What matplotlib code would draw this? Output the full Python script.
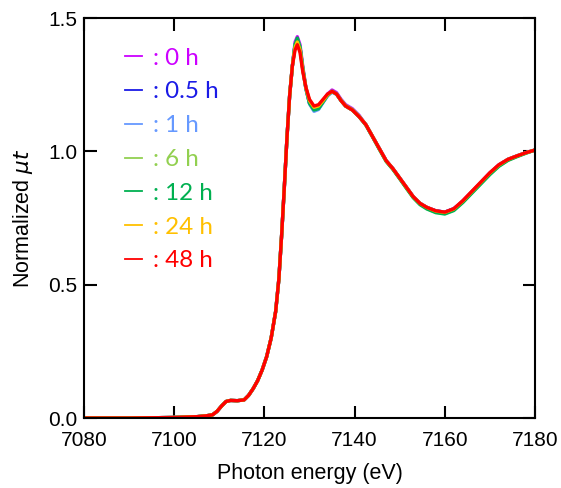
import numpy as np
import matplotlib as mpl
mpl.use('Agg')
from matplotlib import pyplot as plt
from matplotlib.lines import Line2D

# photon energy grid (eV)
energy = [7080, 7090, 7100, 7105, 7107, 7108.5, 7109.5, 7110.5, 7111.5, 7112.5,
          7114, 7115.5, 7116.5, 7117.5, 7118.5, 7119.5, 7120.5, 7121.5, 7122.5, 7123.2,
          7123.8, 7124.4, 7125.0, 7125.6, 7126.2, 7126.8, 7127.3, 7127.9, 7128.5, 7129.2,
          7130.0, 7131.0, 7132.0, 7133.0, 7134.0, 7135.0, 7136.0, 7137.0, 7138.0, 7139.5,
          7141.0, 7142.5, 7144.0, 7145.5, 7147.0, 7148.5, 7150.0, 7151.5, 7153.0, 7154.5,
          7156.0, 7158.0, 7160.0, 7162.0, 7164.0, 7166.0, 7168.0, 7170.0, 7172.0, 7174.0,
          7176.0, 7178.0, 7180.0]

mu_0h = [0.000, 0.000, 0.002, 0.005, 0.008, 0.012, 0.025, 0.045, 0.062, 0.066,
         0.065, 0.068, 0.085, 0.110, 0.140, 0.180, 0.230, 0.300, 0.400, 0.520,
         0.680, 0.860, 1.050, 1.210, 1.320, 1.410, 1.430, 1.400, 1.320, 1.240,
         1.185, 1.160, 1.165, 1.190, 1.215, 1.230, 1.220, 1.195, 1.175, 1.160,
         1.135, 1.100, 1.055, 1.010, 0.965, 0.935, 0.900, 0.865, 0.830, 0.805,
         0.790, 0.777, 0.772, 0.785, 0.815, 0.850, 0.885, 0.920, 0.950, 0.970,
         0.983, 0.995, 1.005]
mu_05h = [0.000, 0.000, 0.002, 0.005, 0.008, 0.012, 0.025, 0.045, 0.062, 0.066,
          0.065, 0.068, 0.085, 0.110, 0.140, 0.180, 0.230, 0.300, 0.400, 0.520,
          0.680, 0.860, 1.050, 1.210, 1.320, 1.400, 1.420, 1.390, 1.310, 1.235,
          1.180, 1.155, 1.160, 1.185, 1.210, 1.225, 1.215, 1.190, 1.170, 1.155,
          1.130, 1.100, 1.055, 1.010, 0.965, 0.935, 0.900, 0.865, 0.830, 0.805,
          0.790, 0.777, 0.772, 0.785, 0.812, 0.847, 0.882, 0.918, 0.948, 0.970,
          0.983, 0.995, 1.005]
mu_1h = [0.000, 0.000, 0.002, 0.005, 0.008, 0.012, 0.025, 0.045, 0.062, 0.066,
         0.065, 0.068, 0.085, 0.110, 0.140, 0.180, 0.230, 0.300, 0.400, 0.520,
         0.680, 0.860, 1.050, 1.210, 1.320, 1.400, 1.420, 1.390, 1.310, 1.235,
         1.178, 1.150, 1.157, 1.183, 1.208, 1.222, 1.213, 1.190, 1.170, 1.155,
         1.130, 1.100, 1.055, 1.010, 0.965, 0.935, 0.900, 0.865, 0.830, 0.805,
         0.790, 0.775, 0.770, 0.783, 0.812, 0.847, 0.882, 0.918, 0.948, 0.970,
         0.983, 0.995, 1.005]
mu_6h = [0.000, 0.000, 0.002, 0.005, 0.008, 0.012, 0.025, 0.045, 0.062, 0.066,
         0.065, 0.068, 0.085, 0.110, 0.140, 0.180, 0.230, 0.300, 0.400, 0.520,
         0.680, 0.860, 1.050, 1.210, 1.320, 1.400, 1.420, 1.390, 1.315, 1.238,
         1.185, 1.160, 1.165, 1.188, 1.212, 1.225, 1.215, 1.192, 1.172, 1.157,
         1.132, 1.100, 1.055, 1.008, 0.963, 0.933, 0.898, 0.862, 0.827, 0.802,
         0.786, 0.772, 0.767, 0.780, 0.810, 0.845, 0.880, 0.915, 0.945, 0.967,
         0.981, 0.994, 1.005]
mu_12h = [0.000, 0.000, 0.002, 0.005, 0.008, 0.012, 0.025, 0.045, 0.062, 0.066,
          0.065, 0.068, 0.085, 0.110, 0.140, 0.180, 0.230, 0.300, 0.400, 0.520,
          0.680, 0.860, 1.050, 1.210, 1.320, 1.400, 1.425, 1.390, 1.312, 1.236,
          1.180, 1.155, 1.160, 1.185, 1.210, 1.225, 1.215, 1.190, 1.170, 1.155,
          1.130, 1.098, 1.053, 1.007, 0.962, 0.932, 0.897, 0.861, 0.826, 0.800,
          0.784, 0.770, 0.765, 0.778, 0.808, 0.843, 0.878, 0.913, 0.944, 0.966,
          0.980, 0.993, 1.005]
mu_24h = [0.000, 0.000, 0.002, 0.005, 0.008, 0.012, 0.025, 0.045, 0.062, 0.066,
          0.065, 0.068, 0.085, 0.110, 0.140, 0.180, 0.230, 0.300, 0.400, 0.520,
          0.680, 0.860, 1.050, 1.210, 1.320, 1.390, 1.410, 1.380, 1.305, 1.238,
          1.190, 1.165, 1.170, 1.190, 1.212, 1.225, 1.215, 1.190, 1.170, 1.155,
          1.130, 1.100, 1.055, 1.010, 0.965, 0.935, 0.900, 0.865, 0.830, 0.805,
          0.790, 0.776, 0.771, 0.784, 0.814, 0.849, 0.884, 0.919, 0.949, 0.970,
          0.983, 0.995, 1.005]
mu_48h = [0.000, 0.000, 0.002, 0.005, 0.008, 0.012, 0.025, 0.045, 0.062, 0.066,
          0.065, 0.068, 0.085, 0.110, 0.140, 0.180, 0.230, 0.300, 0.400, 0.520,
          0.680, 0.860, 1.050, 1.210, 1.320, 1.380, 1.400, 1.370, 1.300, 1.240,
          1.195, 1.170, 1.175, 1.195, 1.215, 1.225, 1.215, 1.190, 1.170, 1.155,
          1.130, 1.100, 1.055, 1.010, 0.965, 0.935, 0.900, 0.865, 0.830, 0.805,
          0.790, 0.777, 0.772, 0.785, 0.815, 0.850, 0.885, 0.920, 0.950, 0.970,
          0.983, 0.995, 1.005]

series = [mu_0h, mu_05h, mu_1h, mu_6h, mu_12h, mu_24h, mu_48h]
labels = [': 0 h', ': 0.5 h', ': 1 h', ': 6 h', ': 12 h', ': 24 h', ': 48 h']
colors = ['#CC00FF', '#1A1AE6', '#6699FF', '#92D050', '#00B050', '#FFC000', '#FF0000']

plt.rcParams['font.family'] = ['Liberation Sans', 'DejaVu Sans']
plt.rcParams['mathtext.fontset'] = 'dejavusans'

fig = plt.figure(figsize=(5.61, 4.88), dpi=100)
ax = fig.add_axes([0.1497, 0.1434, 0.8040, 0.8197])

for y, c in zip(series, colors):
    ax.plot(energy, y, color=c, lw=2.4, solid_joinstyle='round')

ax.set_xlim(7080, 7180)
ax.set_ylim(0, 1.5)
ax.set_xticks(np.arange(7080, 7181, 20))
ax.set_yticks([0.0, 0.5, 1.0, 1.5])
ax.yaxis.set_major_formatter(mpl.ticker.FormatStrFormatter('%.1f'))
ax.tick_params(direction='in', length=9, width=1.5, labelsize=15,
               top=True, right=True, pad=5)
ax.tick_params(axis='x', pad=9)
for s in ax.spines.values():
    s.set_linewidth(1.5)

ax.set_xlabel('Photon energy (eV)', fontsize=15.5, labelpad=10)
ax.set_ylabel(r'Normalized $\mathit{\mu t}$', fontsize=15.5, labelpad=9)

handles = [Line2D([], [], color=c, lw=1.3) for c in colors]
leg = ax.legend(handles, labels, loc='upper left', bbox_to_anchor=(0.092, 0.926),
                frameon=False, handlelength=0.7, handletextpad=0.42,
                labelspacing=0.53, labelcolor=colors, borderpad=0, borderaxespad=0,
                prop={'family': 'Lato', 'size': 17.4})

plt.savefig('out.png', dpi=100)
